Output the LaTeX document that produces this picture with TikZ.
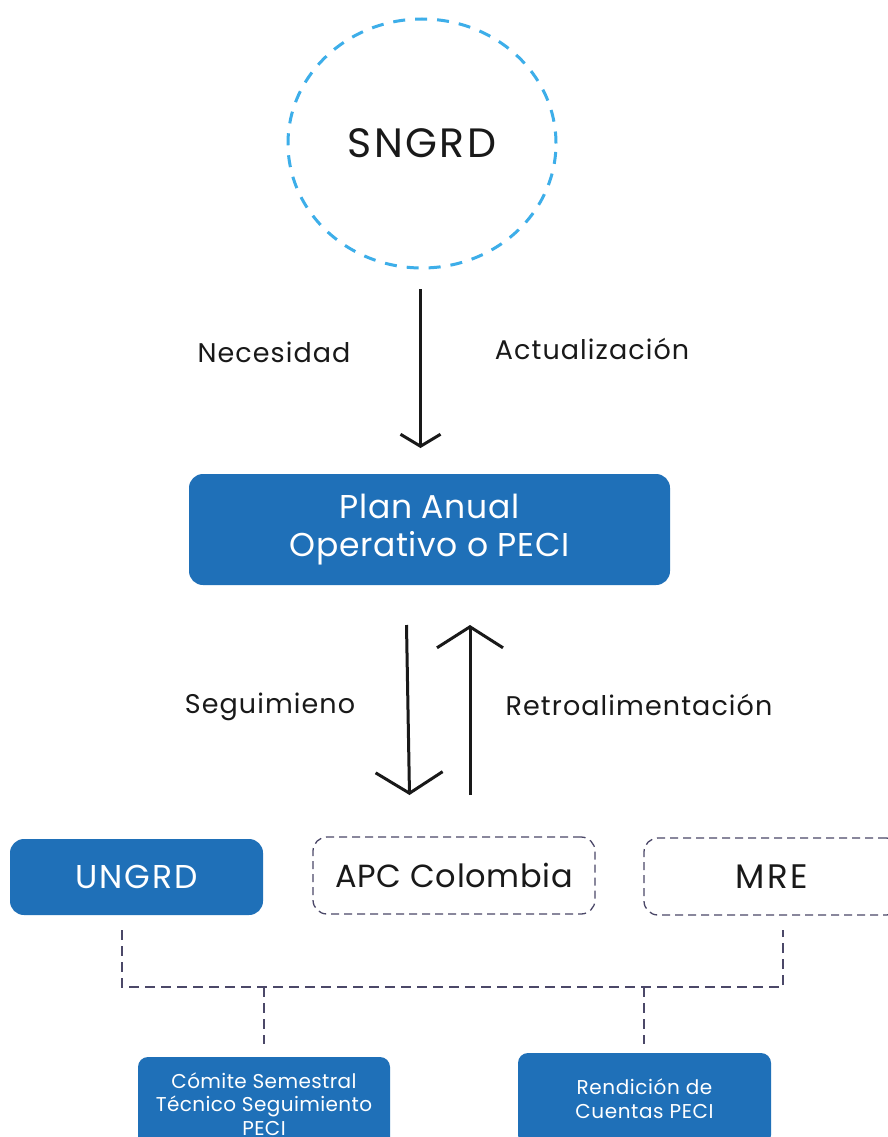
\documentclass[tikz,border=0pt]{standalone}
\usepackage{fontspec}
\setmainfont{Poppins}
\usetikzlibrary{arrows.meta,shapes.geometric}
\definecolor{boxblue}{RGB}{31,112,184}
\definecolor{dashblue}{RGB}{61,174,233}
\definecolor{dashgray}{RGB}{75,72,104}
\definecolor{ink}{RGB}{25,25,25}
\newcommand{\fs}[3]{\fontsize{#1}{#2}\selectfont\addfontfeatures{LetterSpace=#3}}
\tikzset{
  bluebox/.style={draw=none, fill=boxblue, rounded corners=14pt, text=white, align=center, inner sep=0pt},
  dashbox/.style={draw=dashgray, line width=1.3pt, dash pattern=on 8pt off 5pt, rounded corners=14pt, text=ink, inner sep=0pt},
  lbl/.style={text=ink, inner sep=0pt, font=\fs{27}{32}{4}},
  bigarrow/.style={draw=ink, line width=3pt},
  conn/.style={draw=dashgray, line width=1.3pt, dash pattern=on 10pt off 6pt}
}
\begin{document}
\begin{tikzpicture}[x=1pt,y=-1pt]
\useasboundingbox (0,0) rectangle (888,1137);
\clip (0,0) rectangle (888,1137);
\fill[white] (0,0) rectangle (888,1137);

% SNGRD
\node[ellipse, draw=dashblue, line width=3pt, dash pattern=on 12pt off 10pt,
      minimum width=268pt, minimum height=249pt, inner sep=0pt, text=ink,
      font=\fs{41}{48}{6}] (sngrd) at (422,143.5) {SNGRD};

% labels
\node[lbl] (nec) at (274,352) {Necesidad};
\node[lbl] (act) at (592,349) {Actualización};
\node[lbl] (seg) at (270,707) {Seguimieno};
\node[lbl] (retro) at (639,705) {Retroalimentación};

% Plan box
\node[bluebox, minimum width=481pt, minimum height=111pt,
      font=\fs{33}{38}{2}] (plan) at (429.5,529.5) {Plan Anual\\Operativo o PECI};

% arrows
\coordinate (a1s) at (420.5,289);
\coordinate (a1e) at (420.5,448);
\draw[bigarrow, -{Straight Barb[length=12pt,width=40pt]}] (a1s) -- (a1e);

\coordinate (a2s) at (406.5,625);
\coordinate (a2e) at (409.5,795);
\draw[bigarrow, -{Straight Barb[length=21pt,width=67pt]}] (a2s) -- (a2e);

\coordinate (a3s) at (470,795);
\coordinate (a3e) at (470,625);
\draw[bigarrow, -{Straight Barb[length=21pt,width=66pt]}] (a3s) -- (a3e);

% second row
\node[bluebox, minimum width=253pt, minimum height=76pt,
      font=\fs{33}{38}{6}] (ungrd) at (136.5,877) {UNGRD};
\node[dashbox, minimum width=282pt, minimum height=77pt,
      font=\fs{32}{38}{2}] (apc) at (454,875.5) {APC Colombia};
\node[dashbox, minimum width=256pt, minimum height=77pt,
      font=\fs{34}{38}{8}] (mre) at (772,876.5) {MRE};

% dashed connectors
\coordinate (u1) at (122,930);
\coordinate (j1) at (122,987);
\coordinate (j2) at (783,987);
\coordinate (m1) at (783,930);
\draw[conn] (u1) -- (j1) -- (j2) -- (m1);
\coordinate (d1s) at (264,987);
\coordinate (d1e) at (264,1044);
\coordinate (d2s) at (644,987);
\coordinate (d2e) at (644,1044);
\draw[conn] (d1s) -- (d1e);
\draw[conn] (d2s) -- (d2e);

% bottom boxes
\node[bluebox, rounded corners=10pt, minimum width=252pt, minimum height=94pt,
      font=\fs{20}{23.5}{2}] (comite) at (264,1104) {Cómite Semestral\\Técnico Seguimiento\\PECI};
\node[bluebox, rounded corners=10pt, minimum width=253pt, minimum height=92pt,
      font=\fs{20}{24}{3}] (rend) at (644.5,1099) {Rendición de\\Cuentas PECI};
\end{tikzpicture}
\end{document}
